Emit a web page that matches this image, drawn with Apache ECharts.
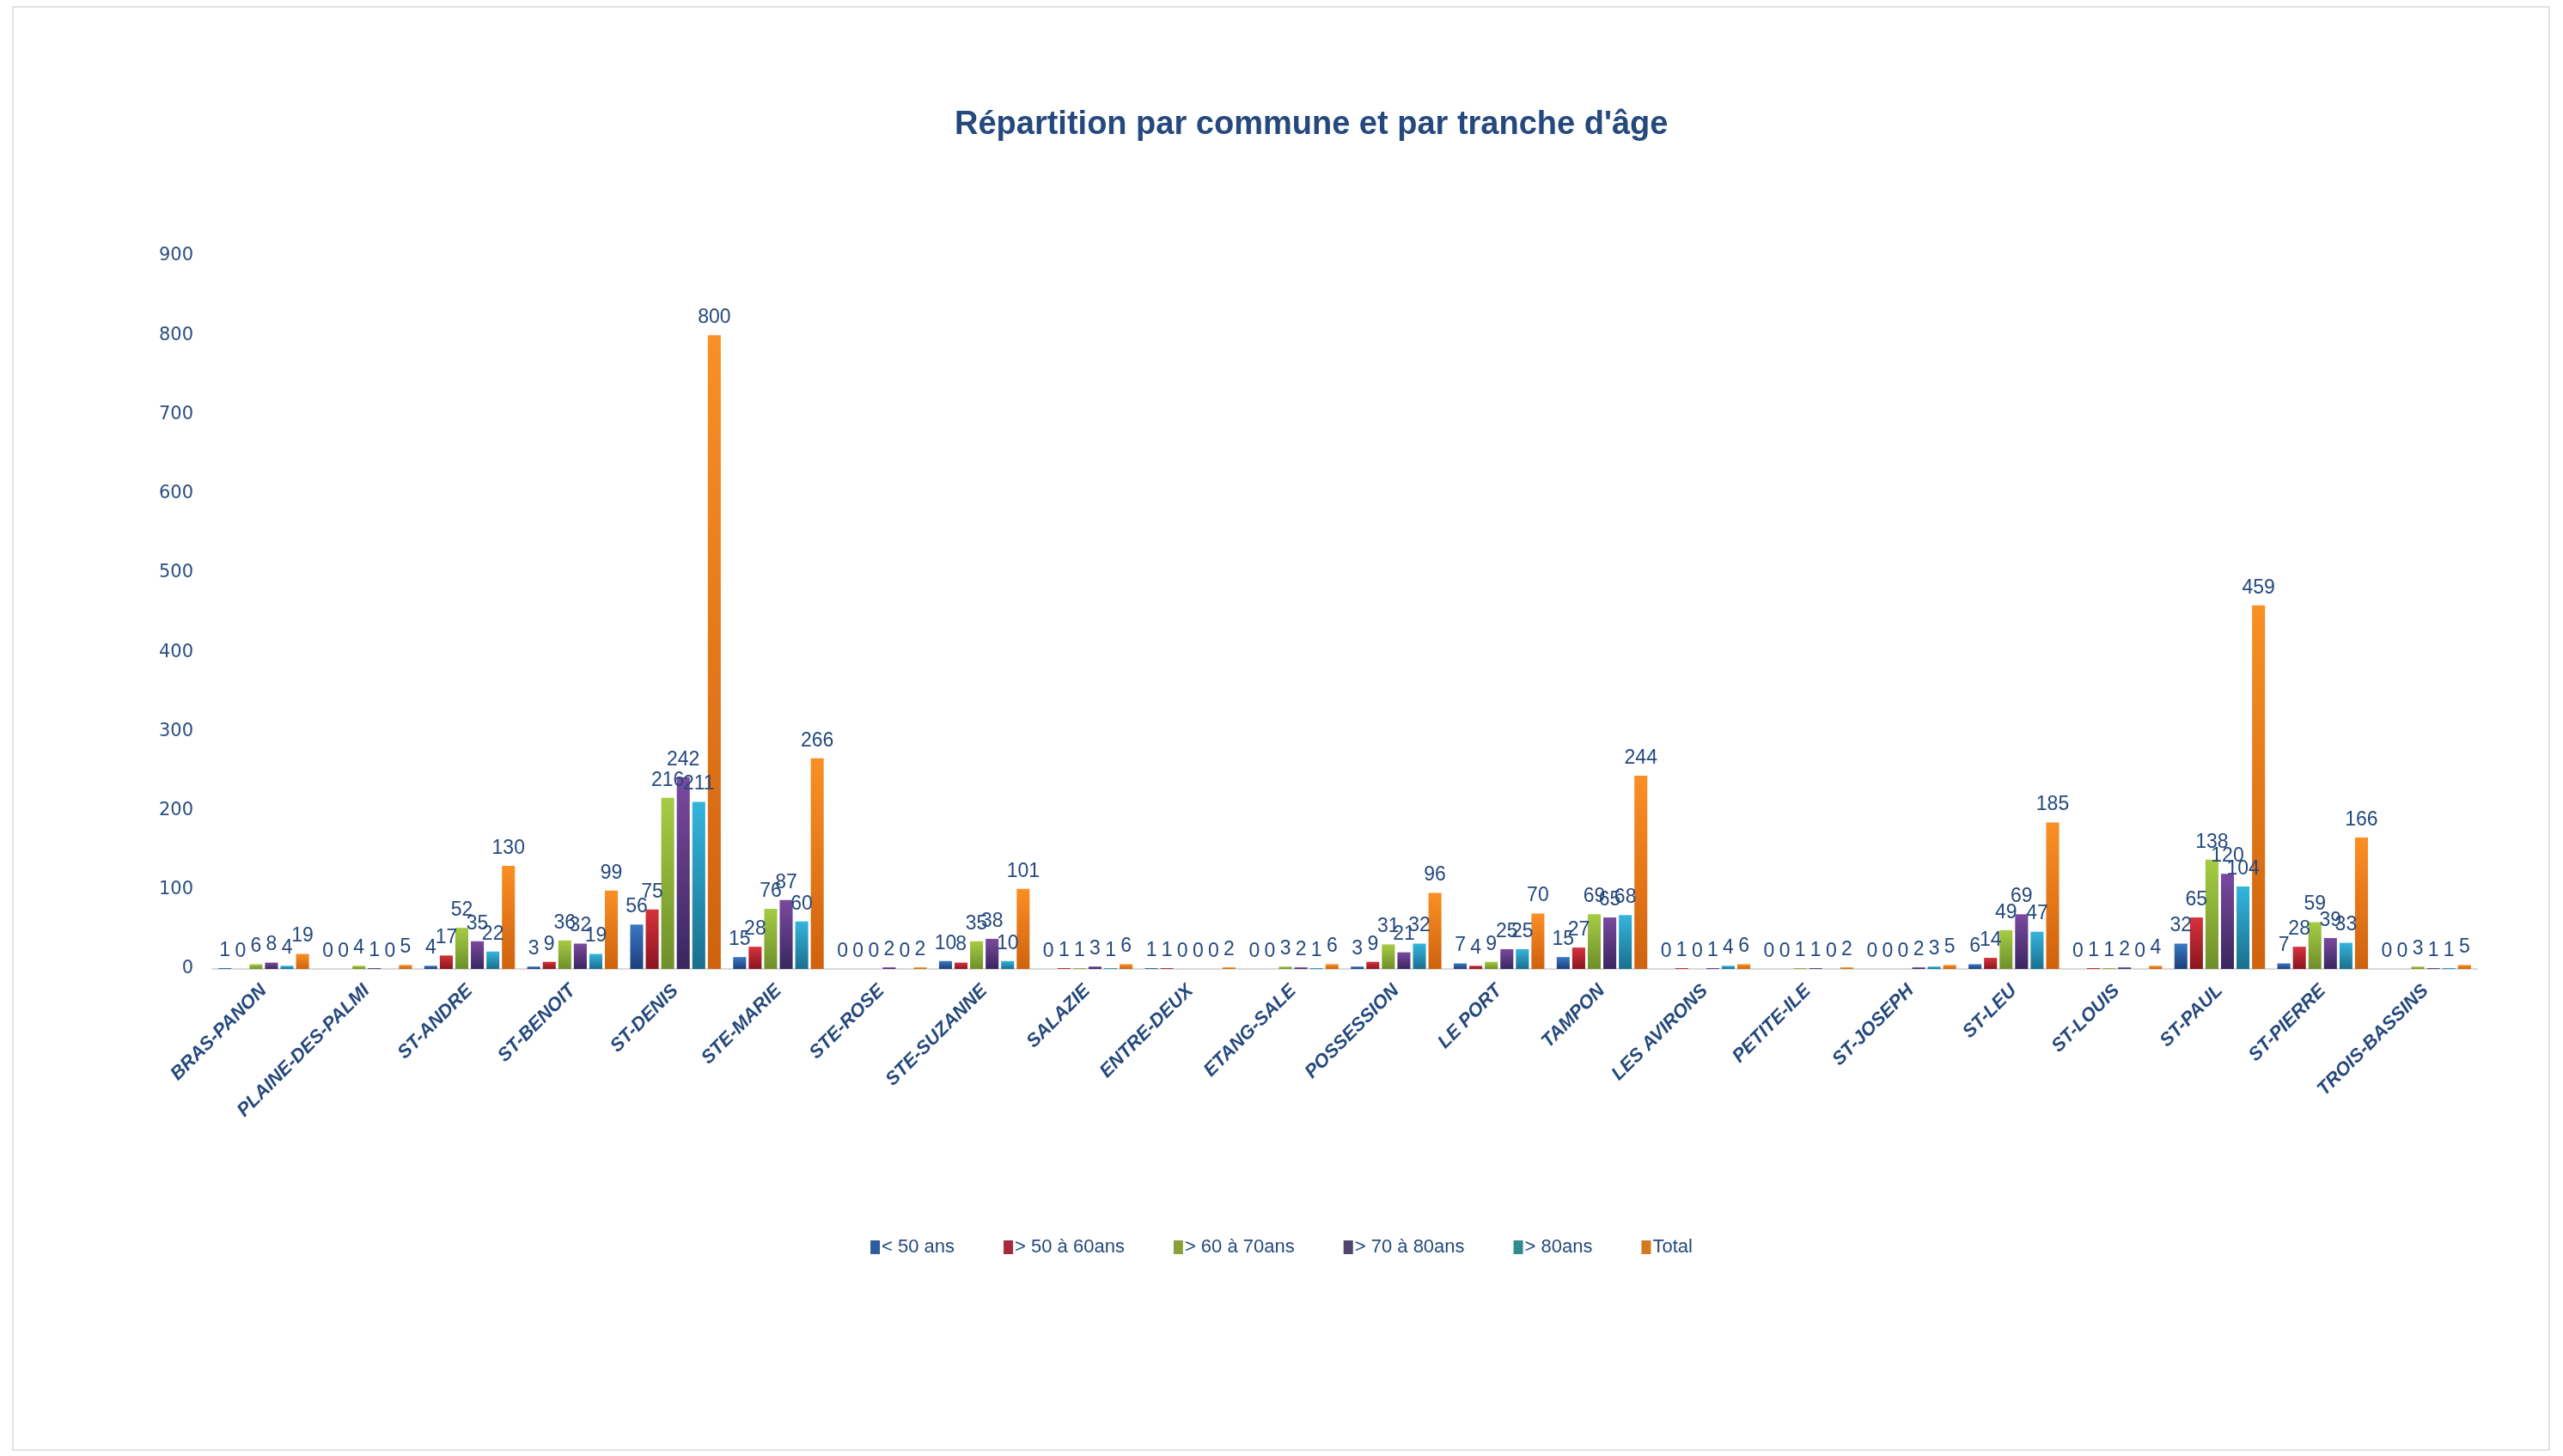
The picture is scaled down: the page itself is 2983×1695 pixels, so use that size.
<!DOCTYPE html>
<html><head><meta charset="utf-8">
<script src="https://cdn.jsdelivr.net/npm/echarts@6/dist/echarts.min.js"></script>
<style>html,body{margin:0;padding:0;background:#fff}#c{width:2983px;height:1695px}</style>
</head><body><div id="c"></div><script>
const communes = ['BRAS-PANON','PLAINE-DES-PALMI','ST-ANDRE','ST-BENOIT','ST-DENIS','STE-MARIE','STE-ROSE','STE-SUZANNE','SALAZIE','ENTRE-DEUX','ETANG-SALE','POSSESSION','LE PORT','TAMPON','LES AVIRONS','PETITE-ILE','ST-JOSEPH','ST-LEU','ST-LOUIS','ST-PAUL','ST-PIERRE','TROIS-BASSINS'];
const seriesNames = ['< 50 ans','> 50 à 60ans','> 60 à 70ans','> 70 à 80ans','> 80ans','Total'];
const lt50   = [1,0,4,3,56,15,0,10,0,1,0,3,7,15,0,0,0,6,0,32,7,0];
const a50_60 = [0,0,17,9,75,28,0,8,1,1,0,9,4,27,1,0,0,14,1,65,28,0];
const a60_70 = [6,4,52,36,216,76,0,35,1,0,3,31,9,69,0,1,0,49,1,138,59,3];
const a70_80 = [8,1,35,32,242,87,2,38,3,0,2,21,25,65,1,1,2,69,2,120,39,1];
const gt80   = [4,0,22,19,211,60,0,10,1,0,1,32,25,68,4,0,3,47,0,104,33,1];
const total  = [19,5,130,99,800,266,2,101,6,2,6,96,70,244,6,2,5,185,4,459,166,5];
const yMin = 0, yMax = 900, yInterval = 100;

const values = [lt50, a50_60, a60_70, a70_80, gt80, total];
const topCols = ['#3a78c4','#d6323a','#a6cc45','#7a4a9e','#35b5dd','#fa8f25'];
const botCols = ['#1d3f7a','#8a1520','#6e8f2a','#3a2660','#1a6f8e','#cf620e'];
const legCols = ['#2e5c9e','#a52a3d','#8aa03a','#4f4670','#2e8c8c','#d27a1e'];
const narrow = '"Liberation Sans Narrow","Liberation Sans",sans-serif';
const txt = '#25497d';

const chart = echarts.init(document.getElementById('c'), null, {renderer:'canvas'});
chart.setOption({
  backgroundColor:'#ffffff',
  animation:false,
  title:{text:"Répartition par commune et par tranche d'âge", left:1106, top:122,
    textStyle:{fontFamily:narrow, fontWeight:'bold', fontSize:38, color:'#25497d'}},
  graphic:[{type:'rect', shape:{x:15,y:8,width:2952,height:1680}, style:{fill:'none', stroke:'#e2e2e2', lineWidth:2}, silent:true}],
  legend:{bottom:1695-1468, left:'center', itemWidth:11, itemHeight:16, itemGap:57,
    icon:'rect',
    textStyle:{fontFamily:narrow, fontSize:22, color:txt, padding:[0,0,0,-3]},
    data: seriesNames.map((n,i)=>({name:n, itemStyle:{color:legCols[i]}}))},
  grid:{left:247, right:100, top:298, bottom:567, containLabel:false},
  xAxis:{type:'category', data:communes,
    axisLine:{lineStyle:{color:'#d9d9d9', width:2}}, axisTick:{show:false},
    axisLabel:{rotate:45, interval:0, margin:22, fontFamily:narrow, fontSize:22, fontWeight:'bold', fontStyle:'italic', color:txt}},
  yAxis:{type:'value', min:yMin, max:yMax, interval:yInterval,
    axisLine:{show:false}, axisTick:{show:false}, splitLine:{show:false},
    axisLabel:{fontFamily:'"DejaVu Sans",sans-serif', fontSize:21, color:'#2b4f82', margin:22}},
  series: seriesNames.map((n,i)=>({
    name:n, type:'bar', data:values[i], barGap:'20%', barCategoryGap:'12%',
    itemStyle:{color:new echarts.graphic.LinearGradient(0,0,0,1,[{offset:0,color:topCols[i]},{offset:1,color:botCols[i]}])},
    label:{show:true, position:'top', distance:9, fontFamily:narrow, fontSize:23, color:txt}
  }))
});
</script></body></html>
